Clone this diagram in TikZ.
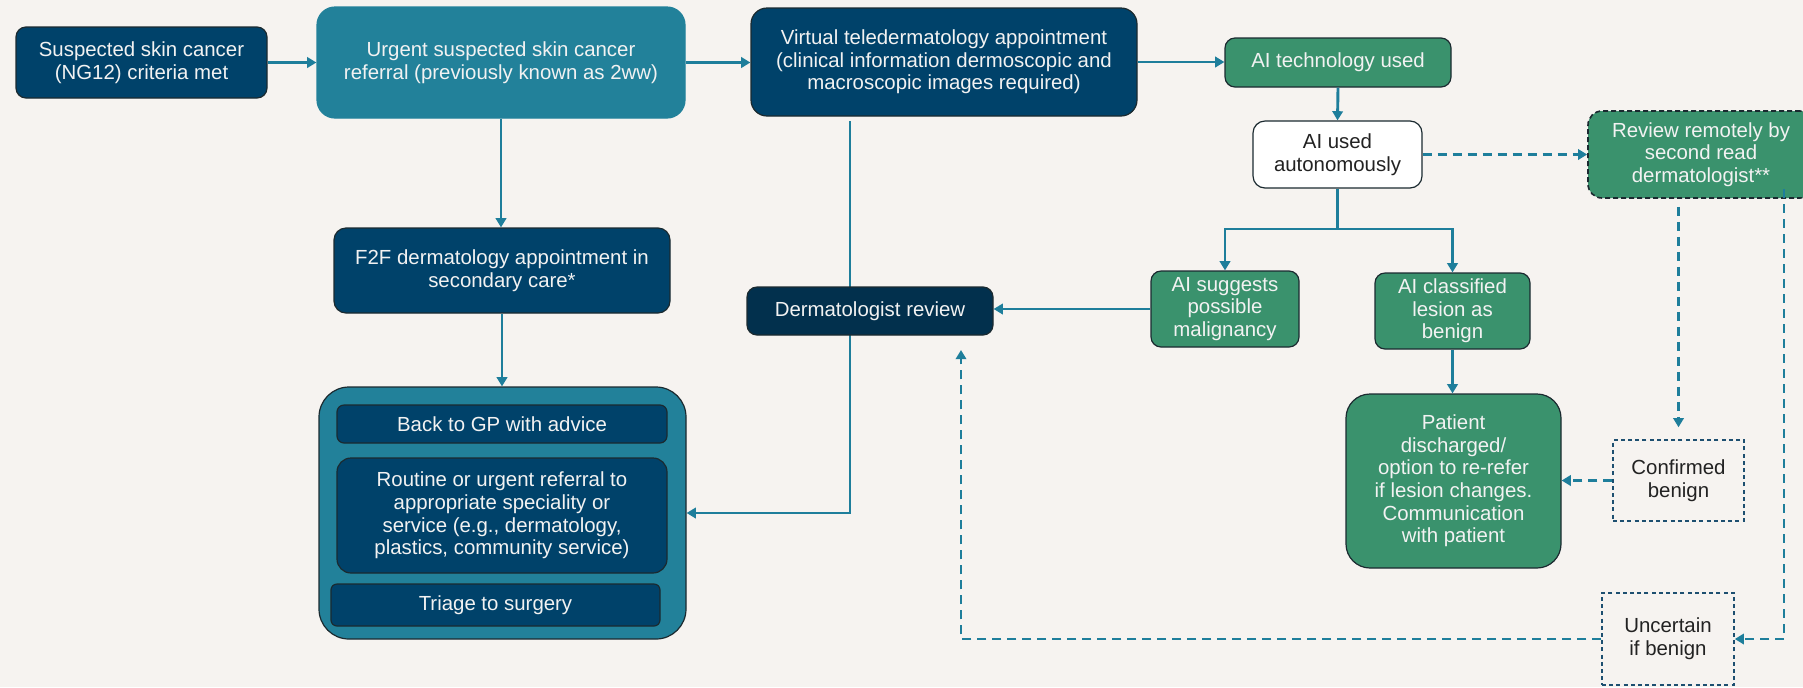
\documentclass[tikz,border=0pt]{standalone}
\usepackage{fontspec}
\setmainfont{Liberation Sans}
\usetikzlibrary{arrows.meta}

\definecolor{bgc}{HTML}{F6F3F0}
\definecolor{navy}{HTML}{00426A}
\definecolor{deepnavy}{HTML}{02304D}
\definecolor{tealbox}{HTML}{22819A}
\definecolor{greenbox}{HTML}{3A926D}
\definecolor{wire}{HTML}{1E7E9B}
\definecolor{edge}{HTML}{1B2A30}
\definecolor{dashnavy}{HTML}{1D4F70}
\definecolor{ink}{HTML}{222222}
\definecolor{paper}{HTML}{F2F2F2}

\begin{document}
\begin{tikzpicture}[x=0.5pt,y=-0.5pt,
  basebox/.style={draw=edge, line width=0.6pt, inner sep=0pt, align=center,
    text=paper, font=\fontsize{10.2pt}{11.3pt}\selectfont},
  navybox/.style={basebox, fill=navy},
  tealfill/.style={basebox, fill=tealbox},
  greenfill/.style={basebox, fill=greenbox},
  plainbox/.style={basebox, fill=white, text=ink},
  outcome/.style={draw=dashnavy, line width=0.75pt, dash pattern=on 2pt off 1.6pt,
    inner sep=0pt, align=center, text=ink, font=\fontsize{10.2pt}{11.3pt}\selectfont},
  flow/.style={draw=wire, line width=1.45pt, -{Triangle[length=4.6pt,width=5.2pt]}},
  flowplain/.style={draw=wire, line width=1.45pt},
  dflow/.style={flow, dash pattern=on 4.5pt off 3pt},
]
% canvas
\fill[bgc] (0,0) rectangle (1803,687);
\clip (0,0) rectangle (1803,687);

% first row
\node[navybox, rounded corners=5pt, minimum width=125.5pt, minimum height=35.5pt]
  (susp) at (141.5,62.5) {Suspected skin cancer\\(NG12) criteria met};
\node[tealfill, draw=tealbox, rounded corners=9pt, minimum width=184pt, minimum height=55.5pt]
  (urgent) at (501,62.5) {Urgent suspected skin cancer\\referral (previously known as 2ww)};
\node[navybox, rounded corners=8pt, minimum width=193pt, minimum height=54pt]
  (virtual) at (944,62) {Virtual teledermatology appointment\\(clinical information dermoscopic and\\macroscopic images required)};
\node[greenfill, rounded corners=5pt, minimum width=113pt, minimum height=24.5pt]
  (aitech) at (1338,62.5) {AI technology used};

% AI branch
\node[plainbox, rounded corners=6pt, minimum width=84.5pt, minimum height=33.5pt]
  (aiused) at (1337.5,154.5) {AI used\\autonomously};
\node[greenfill, rounded corners=7pt, minimum width=113pt, minimum height=43.5pt,
  line width=0.8pt, dash pattern=on 2.5pt off 1.5pt]
  (review) at (1701,154.5) {Review remotely by\\second read\\dermatologist**};
\node[greenfill, rounded corners=5pt, minimum width=74pt, minimum height=38pt]
  (aisugg) at (1225,309) {AI suggests\\possible\\malignancy};
\node[greenfill, rounded corners=5pt, minimum width=77.5pt, minimum height=38pt]
  (aiclass) at (1452.5,311) {AI classified\\lesion as\\benign};
\node[greenfill, rounded corners=12pt, minimum width=107.5pt, minimum height=87pt]
  (patient) at (1453.5,481) {Patient\\discharged/\\option to re-refer\\if lesion changes.\\Communication\\with patient};
\node[outcome, minimum width=65.5pt, minimum height=40.5pt]
  (confirmed) at (1678.5,480.5) {Confirmed\\benign};
\node[outcome, minimum width=66pt, minimum height=46pt]
  (uncertain) at (1668,639) {Uncertain\\if benign};

% face-to-face path
\node[navybox, rounded corners=6pt, minimum width=168pt, minimum height=42.5pt]
  (f2f) at (502,270.5) {F2F dermatology appointment in\\secondary care*};
\node[tealfill, rounded corners=15pt, minimum width=183.5pt, minimum height=126pt]
  (container) at (502.5,513) {};
\node[navybox, rounded corners=3.5pt, minimum width=165pt, minimum height=19pt]
  (gp) at (502,424) {Back to GP with advice};
\node[navybox, rounded corners=7pt, minimum width=165pt, minimum height=57.5pt]
  (routine) at (502,515.5) {Routine or urgent referral to\\appropriate speciality or\\service (e.g., dermatology,\\plastics, community service)};
\node[navybox, rounded corners=3pt, minimum width=164.5pt, minimum height=21pt]
  (triage) at (495.5,605) {Triage to surgery};

% teledermatology outcome line runs behind the review box
\coordinate (vstart) at (850,121);
\draw[flow] (vstart) |- (container.east);

\node[basebox, fill=deepnavy, rounded corners=5pt, minimum width=123pt, minimum height=24pt]
  (derm) at (870,311) {Dermatologist review};

% solid connectors
\draw[flow] (susp.east) -- (urgent.west);
\draw[flow] (urgent.east) -- (urgent.east -| virtual.west);
\draw[flow] (virtual.east) -- (virtual.east -| aitech.west);
\draw[flow] (urgent.south) -- (urgent.south |- f2f.north);
\draw[flow] (f2f.south) -- (f2f.south |- container.north);
\draw[flow] (aitech.south) -- (aiused.north);
\coordinate (split) at (1337.5,229);
\draw[flowplain] (aiused.south) -- (split);
\draw[flow] (split) -| (aisugg.north);
\draw[flow] (split) -| (aiclass.north);
\draw[flow] (aisugg.west) -- (aisugg.west -| derm.east);
\draw[flow] (aiclass.south) -- (aiclass.south |- patient.north);

% second-read connectors
\draw[dflow] (aiused.east) -- (review.west);
\draw[dflow] ([yshift=-4pt]review.south -| confirmed.north) -- ([yshift=6pt]confirmed.north);
\draw[dflow] (confirmed.west) -- (confirmed.west -| patient.east);
\coordinate (rtop) at (1784,189);
\draw[dflow] (rtop) |- (uncertain.east);
\coordinate (dtip) at (961,350);
\draw[dflow] (uncertain.west) -| (dtip);
\end{tikzpicture}
\end{document}
